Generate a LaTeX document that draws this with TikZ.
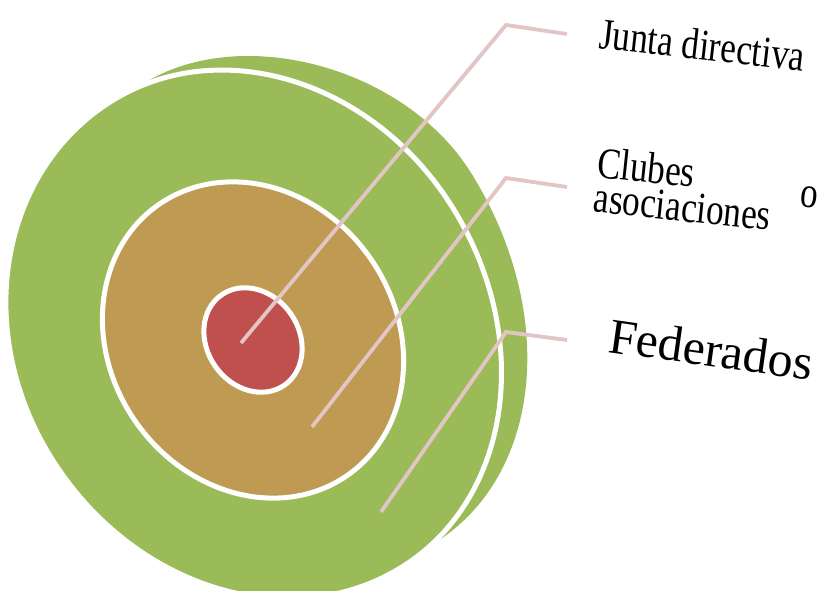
\documentclass[tikz,border=0pt]{standalone}
\usepackage{graphicx}
\usepackage{fontspec}
\setmainfont{Liberation Serif}
\definecolor{grn}{HTML}{9BBB59}
\definecolor{brn}{HTML}{BE9A53}
\definecolor{rd}{HTML}{C0504D}
\definecolor{lnk}{HTML}{E3C5C5}
\begin{document}
\begin{tikzpicture}[x=1pt,y=-1pt,
  ring/.style={draw=white,line width=5pt},
  leader/.style={draw=lnk,line width=3.8pt},
  lbl/.style={anchor=base west,inner sep=0pt,text=black}]
\useasboundingbox (0,0) rectangle (823,591);
\coordinate (cb) at (253,340);
% local frame of the green disc: x along the long axis (down-right), y towards lower-left
\begin{scope}[shift={(255,331)}, x={(0.530pt,-0.848pt)}, y={(-0.848pt,-0.530pt)}]
  % outer crescent
  \fill[grn] (-269,-36) .. controls (-269,-151.5) and (-144.5,-267) .. (-20,-267)
    .. controls (145.2,-267) and (275,-167.1) .. (275,-40)
    -- (255,-10) -- (-250,-10) -- cycle;
  % main green
  \filldraw[fill=grn, ring] (278,0) .. controls (278,-128.7) and (153.5,-233) .. (0,-233)
    .. controls (-149.7,-233) and (-271,-128.7) .. (-271,0)
    .. controls (-271,132.5) and (-149.7,240) .. (0,240)
    .. controls (153.5,240) and (278,132.5) .. (278,0) -- cycle;
\end{scope}
% brown
\filldraw[fill=brn, ring, rotate around={-55:(cb)}] (cb) ellipse [x radius=165pt, y radius=143pt];
% red
\filldraw[fill=rd, ring, rotate around={-55:(cb)}] (cb) ellipse [x radius=55pt, y radius=46pt];
% labels
\node[lbl, rotate=-6.5] (junta) at (598,48) {\scalebox{0.8}[1]{\fontsize{44}{44}\selectfont Junta directiva}};
\node[lbl, rotate=-6] (clubes) at (596,177) {\scalebox{0.8}[1]{\begin{minipage}[t]{278pt}\fontsize{44}{35}\selectfont Clubes\hfill\smash{\raisebox{-8pt}{o}}\\asociaciones\end{minipage}}};
\node[lbl, rotate=-8] (fed) at (607,352) {\fontsize{50}{50}\selectfont Federados};
% leader lines
\coordinate (j0) at (241,343); \coordinate (j1) at (506,25); \coordinate (j2) at (567,34);
\coordinate (c0) at (312,427); \coordinate (c1) at (506,178); \coordinate (c2) at (567,187);
\coordinate (f0) at (381,512); \coordinate (f1) at (506,332); \coordinate (f2) at (567,340);
\draw[leader] (j0) -- (j1) -- (j2);
\draw[leader] (c0) -- (c1) -- (c2);
\draw[leader] (f0) -- (f1) -- (f2);
\end{tikzpicture}
\end{document}
